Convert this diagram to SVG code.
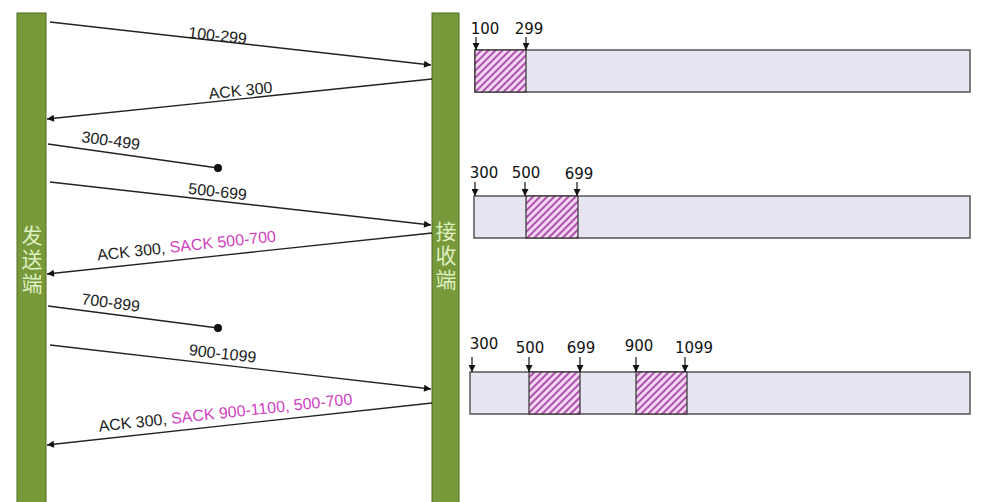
<svg xmlns="http://www.w3.org/2000/svg" width="991" height="502" viewBox="0 0 991 502">
<style>
.bar{fill:#77993a;stroke:#4f6a22;stroke-width:1}
.vt{font-family:"Noto Sans CJK SC","Noto Sans",sans-serif;font-size:21px;fill:#dfeec0;writing-mode:vertical-rl;letter-spacing:3px}
.ln{stroke:#222;stroke-width:1.3;fill:none}
.lb{font-family:"Liberation Sans",Arial,sans-serif;font-size:16px;fill:#222;text-anchor:middle}
.mg{fill:#d042c0}
.box{fill:#e8e5f3;stroke:#555;stroke-width:1.5}
.hat{fill:url(#hatch);stroke:#333;stroke-width:1.2}
.nl{font-family:"DejaVu Sans",Verdana,sans-serif;font-size:15px;fill:#111;text-anchor:middle}
.tk{stroke:#111;stroke-width:1.2}
</style>
<defs>
<marker id="ah" viewBox="0 0 10 10" refX="10" refY="5" markerWidth="9" markerHeight="7" markerUnits="userSpaceOnUse" orient="auto">
<path d="M0,0 L10,5 L0,10 z" fill="#111"/>
</marker>
<marker id="dt" viewBox="0 0 10 10" refX="5" refY="5" markerWidth="8" markerHeight="8" markerUnits="userSpaceOnUse">
<circle cx="5" cy="5" r="5" fill="#111"/>
</marker>
<marker id="tick" viewBox="0 0 10 10" refX="10" refY="5" markerWidth="7" markerHeight="7" markerUnits="userSpaceOnUse" orient="auto">
<path d="M0,0 L10,5 L0,10 z" fill="#111"/>
</marker>
<pattern id="hatch" width="5" height="5" patternUnits="userSpaceOnUse" patternTransform="rotate(45)">
<rect width="5" height="5" fill="#f3d6f0"/>
<rect width="2" height="5" fill="#b050b0"/>
</pattern>
</defs>
<rect width="991" height="502" fill="#fff"/>
<g id="sender">
<rect class="bar" x="17" y="13" width="29" height="495"/>
<text class="vt" x="32" y="225">发送端</text>
</g>
<g id="receiver">
<rect class="bar" x="432" y="13" width="27" height="495"/>
<text class="vt" x="446" y="221">接收端</text>
</g>
<g id="connectors">
<line class="ln" x1="50" y1="22" x2="431" y2="65" marker-end="url(#ah)"/>
<line class="ln" x1="432" y1="79" x2="47" y2="119" marker-end="url(#ah)"/>
<line class="ln" x1="48" y1="144" x2="218" y2="168" marker-end="url(#dt)"/>
<line class="ln" x1="50" y1="182" x2="431" y2="225" marker-end="url(#ah)"/>
<line class="ln" x1="432" y1="233" x2="47" y2="274" marker-end="url(#ah)"/>
<line class="ln" x1="48" y1="306" x2="218" y2="328" marker-end="url(#dt)"/>
<line class="ln" x1="50" y1="345" x2="431" y2="389" marker-end="url(#ah)"/>
<line class="ln" x1="432" y1="403" x2="47" y2="445" marker-end="url(#ah)"/>
<text class="lb" transform="translate(217,41) rotate(6.4)">100-299</text>
<text class="lb" transform="translate(241,96) rotate(-5.9)">ACK 300</text>
<text class="lb" transform="translate(110,146) rotate(8)">300-499</text>
<text class="lb" transform="translate(217,197) rotate(6.4)">500-699</text>
<text class="lb" transform="translate(187,251) rotate(-6.1)">ACK 300, <tspan class="mg">SACK 500-700</tspan></text>
<text class="lb" transform="translate(110,308) rotate(7.4)">700-899</text>
<text class="lb" transform="translate(222,359) rotate(6.6)">900-1099</text>
<text class="lb" transform="translate(226,418) rotate(-6.2)">ACK 300, <tspan class="mg">SACK 900-1100, 500-700</tspan></text>
</g>
<g id="buffer1">
<rect class="box" x="475" y="50" width="495" height="42"/>
<rect class="hat" x="475" y="50" width="51" height="42"/>
<line class="tk" x1="476" y1="37" x2="476" y2="50" marker-end="url(#tick)"/>
<line class="tk" x1="526" y1="37" x2="526" y2="50" marker-end="url(#tick)"/>
<text class="nl" x="485" y="34">100</text>
<text class="nl" x="529" y="34">299</text>
</g>
<g id="buffer2">
<rect class="box" x="474" y="196" width="496" height="42"/>
<rect class="hat" x="526" y="196" width="52" height="42"/>
<line class="tk" x1="475" y1="182" x2="475" y2="196" marker-end="url(#tick)"/>
<line class="tk" x1="525" y1="182" x2="525" y2="196" marker-end="url(#tick)"/>
<line class="tk" x1="577" y1="182" x2="577" y2="196" marker-end="url(#tick)"/>
<text class="nl" x="484" y="178">300</text>
<text class="nl" x="526" y="178">500</text>
<text class="nl" x="579" y="179">699</text>
</g>
<g id="buffer3">
<rect class="box" x="470" y="372" width="500" height="42"/>
<rect class="hat" x="529" y="372" width="51" height="42"/>
<rect class="hat" x="636" y="372" width="51" height="42"/>
<line class="tk" x1="472" y1="357" x2="472" y2="372" marker-end="url(#tick)"/>
<line class="tk" x1="529" y1="357" x2="529" y2="372" marker-end="url(#tick)"/>
<line class="tk" x1="580" y1="357" x2="580" y2="372" marker-end="url(#tick)"/>
<line class="tk" x1="636" y1="357" x2="636" y2="372" marker-end="url(#tick)"/>
<line class="tk" x1="685" y1="357" x2="685" y2="372" marker-end="url(#tick)"/>
<text class="nl" x="484" y="349">300</text>
<text class="nl" x="530" y="353">500</text>
<text class="nl" x="581" y="353">699</text>
<text class="nl" x="639" y="351">900</text>
<text class="nl" x="694" y="353">1099</text>
</g>
</svg>
